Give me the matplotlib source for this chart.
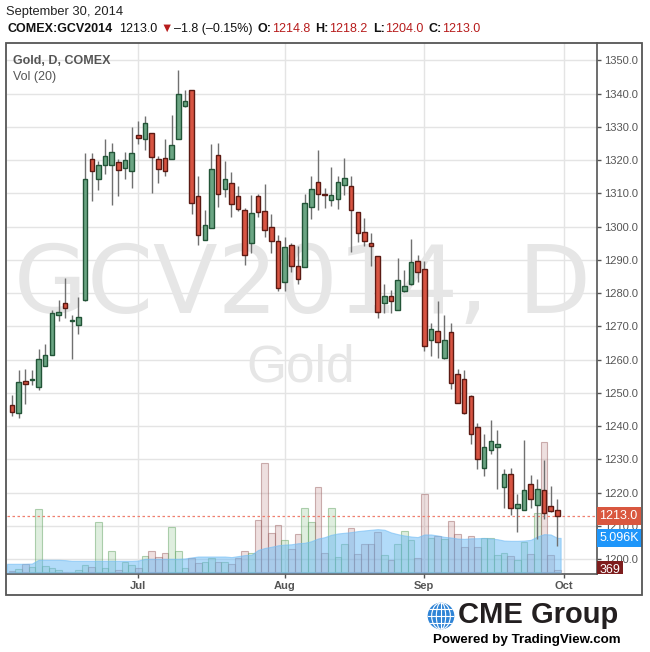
import numpy as np
import pandas as pd
import matplotlib
matplotlib.use('Agg')
import matplotlib.pyplot as plt
from matplotlib import transforms as mtrans
from matplotlib.patches import Rectangle, Circle, Ellipse

# ---------------- data ----------------
holidays = ['2014-07-04', '2014-09-01']
days = pd.bdate_range('2014-06-04', '2014-09-30')
days = days[~days.isin(pd.to_datetime(holidays))]
dates = [d.strftime('%Y-%m-%d') for d in days]

opens = [1246.2, 1243.8, 1253.5, 1253.8, 1251.6, 1258.0, 1261.3, 1273.3, 1277.0, 1271.7,
         1270.3, 1278.0, 1320.2, 1314.4, 1318.6, 1318.6, 1319.5, 1317.7, 1316.7, 1327.5,
         1326.4, 1328.0, 1320.4, 1320.7, 1320.4, 1326.4, 1336.3, 1341.0, 1309.2, 1295.9,
         1299.6, 1321.6, 1311.4, 1313.2, 1309.2, 1305.0, 1295.1, 1309.2, 1304.7, 1299.9,
         1295.7, 1283.3, 1294.5, 1288.2, 1287.9, 1305.9, 1313.5, 1309.8, 1308.0, 1308.3,
         1312.6, 1312.3, 1304.4, 1298.3, 1295.1, 1291.0, 1277.1, 1279.2, 1275.0, 1280.7,
         1282.8, 1289.7, 1287.3, 1265.9, 1268.6, 1260.5, 1268.3, 1255.7, 1254.2, 1249.0,
         1239.7, 1227.3, 1232.8, 1233.7, 1221.6, 1225.6, 1215.3, 1214.8, 1222.5, 1216.2,
         1220.7, 1215.9, 1214.8]
highs = [1249.3, 1256.9, 1257.2, 1256.9, 1263.2, 1264.7, 1275.0, 1278.0, 1284.5, 1273.5,
         1278.8, 1322.0, 1322.2, 1319.7, 1326.2, 1325.2, 1320.2, 1322.5, 1330.0, 1331.8,
         1333.1, 1328.0, 1321.2, 1326.2, 1333.5, 1347.0, 1341.0, 1341.0, 1315.2, 1305.0,
         1324.7, 1325.2, 1319.6, 1316.5, 1312.1, 1305.6, 1309.6, 1309.8, 1312.8, 1303.9,
         1297.5, 1296.9, 1295.1, 1294.2, 1309.8, 1315.3, 1322.9, 1311.7, 1318.0, 1315.3,
         1320.7, 1315.3, 1304.4, 1302.5, 1298.0, 1291.0, 1282.8, 1280.8, 1290.4, 1287.0,
         1296.2, 1291.3, 1289.7, 1271.0, 1277.7, 1273.5, 1271.0, 1257.2, 1256.9, 1249.3,
         1240.9, 1237.6, 1241.8, 1238.8, 1227.0, 1227.3, 1219.6, 1235.8, 1225.3, 1224.0,
         1229.8, 1222.0, 1218.2]
lows = [1243.0, 1242.5, 1246.5, 1252.4, 1250.9, 1258.0, 1261.3, 1271.5, 1272.5, 1260.1,
        1267.7, 1277.5, 1307.6, 1311.0, 1315.7, 1306.4, 1309.1, 1314.4, 1311.7, 1324.9,
        1323.0, 1310.2, 1313.2, 1315.2, 1320.4, 1326.4, 1336.0, 1303.8, 1294.4, 1295.9,
        1299.6, 1306.0, 1309.0, 1302.9, 1304.6, 1288.3, 1292.1, 1302.9, 1296.8, 1292.1,
        1280.5, 1280.5, 1286.2, 1282.7, 1287.9, 1302.3, 1304.9, 1305.6, 1306.1, 1305.3,
        1309.5, 1292.3, 1295.5, 1294.0, 1288.0, 1272.6, 1274.1, 1274.1, 1275.0, 1280.4,
        1282.5, 1283.4, 1262.5, 1261.1, 1260.5, 1260.2, 1251.2, 1246.9, 1243.6, 1234.6,
        1227.0, 1225.1, 1231.5, 1221.0, 1215.4, 1213.3, 1208.0, 1214.6, 1215.4, 1206.0,
        1212.0, 1214.0, 1204.0]
closes = [1244.1, 1253.2, 1252.6, 1254.0, 1260.1, 1261.3, 1274.0, 1274.3, 1275.5, 1271.9,
          1272.8, 1314.2, 1316.7, 1318.6, 1321.3, 1322.5, 1317.0, 1320.1, 1322.2, 1326.6,
          1331.0, 1320.9, 1317.4, 1316.8, 1324.6, 1339.8, 1337.9, 1307.1, 1297.6, 1300.5,
          1317.4, 1309.8, 1314.4, 1306.8, 1305.3, 1291.5, 1304.1, 1304.4, 1298.9, 1295.7,
          1281.5, 1293.8, 1288.2, 1284.3, 1307.1, 1311.4, 1309.8, 1309.5, 1309.5, 1313.5,
          1314.7, 1305.0, 1298.0, 1295.6, 1294.0, 1274.4, 1279.2, 1277.7, 1284.0, 1282.2,
          1289.4, 1286.4, 1264.1, 1269.2, 1265.3, 1265.9, 1253.0, 1246.9, 1243.9, 1237.6,
          1230.0, 1233.7, 1235.5, 1234.6, 1225.6, 1215.3, 1216.5, 1220.7, 1218.2, 1221.0,
          1213.8, 1214.5, 1213.0]
volumes = [220, 520, 1260, 810, 9350, 960, 670, 370, 120, 100,
           370, 1110, 810, 7470, 670, 3180, 370, 1550, 1110, 670,
           2440, 3180, 2290, 2860, 6730, 3140, 620, 2100, 1360, 1510,
           2100, 1510, 1510, 1210, 2100, 3140, 2840, 7730, 16160, 5800,
           6990, 4770, 3430, 5650, 9500, 7430, 12610, 2840, 9500, 2260,
           4140, 6510, 2660, 4140, 4140, 5920, 2520, 1780, 4140, 6070,
           4740, 2070, 11540, 5030, 5330, 4880, 7550, 5620, 3700, 5330,
           3700, 5030, 5030, 2540, 2810, 2460, 1820, 4440, 2710, 8730,
           19330, 2560, 369]
vol_ma = [1260, 1260, 1260, 1300, 1850, 1850, 1850, 1850, 1800, 1700,
          1700, 1700, 1700, 1700, 1700, 1700, 1700, 1700, 1700, 1750,
          2000, 2000, 2000, 2000, 2000, 2000, 2050, 2200, 2340, 2340,
          2340, 2340, 2340, 2250, 2400, 2550, 2600, 3300, 3600, 3780,
          4000, 4100, 4150, 4300, 4370, 4600, 5000, 5200, 5550, 5750,
          5850, 5950, 6100, 6200, 6300, 6390, 6300, 5900, 5650, 5450,
          5300, 5210, 5600, 5600, 5450, 5250, 5150, 5000, 4950, 5030,
          5050, 5080, 5000, 4900, 4700, 4660, 4660, 4700, 4800, 5300,
          5650, 5600, 5096]
price_ticks = list(range(1200, 1351, 10))
month_labels = ['Jul', 'Aug', 'Sep', 'Oct']
last_price = 1213.0
last_price_label = '1213.0'
vol_ma_label = '5.096K'
last_vol_label = '369'
title_date = 'September 30, 2014'
# (text, weight, colour, gap before in px)
header = [("COMEX:GCV2014", 'bold', '#111111', 0),
          ("1213.0", 'normal', '#111111', 6),
          ("\u25BC", 'normal', '#b71c1c', 3),
          ("\u20131.8 (\u20130.15%)", 'normal', '#111111', 2),
          ("O:", 'bold', '#111111', 5), ("1214.8", 'normal', '#b71c1c', 0.5),
          ("H:", 'bold', '#111111', 5), ("1218.2", 'normal', '#b71c1c', 0.5),
          ("L:", 'bold', '#111111', 5), ("1204.0", 'normal', '#b71c1c', 0.5),
          ("C:", 'bold', '#111111', 5), ("1213.0", 'normal', '#b71c1c', 0.5)]

# ---------------- layout helpers ----------------
plt.rcParams['font.family'] = ['Liberation Sans', 'DejaVu Sans']
W, H = 650, 652
fig = plt.figure(figsize=(W / 100, H / 100), dpi=100)
fig.patch.set_facecolor('white')
renderer = fig.canvas.get_renderer()


def fx(v):
    return v / W


def fy(v):
    return 1 - v / H


AX_L, AX_R, AX_T, AX_B = 7, 597, 43, 574
ax = fig.add_axes([fx(AX_L), fy(AX_B), (AX_R - AX_L) / W, (AX_B - AX_T) / H])
ax.set_facecolor('white')

x = np.arange(len(dates))
o = np.array(opens); c = np.array(closes)
up = c >= o

# volume scale (secondary scale via transforms)
VMIN, VMAX = -250, 78340
R = VMAX - VMIN
vol_y = mtrans.Affine2D().scale(1, 1 / R).translate(0, -VMIN / R) + ax.transAxes
vol_tf = mtrans.blended_transform_factory(ax.transData, vol_y)

# grid
ax.set_yticks(price_ticks)
month_pos = []
for m in [7, 8, 9]:
    month_pos.append(next(i for i, d in enumerate(days) if d.month == m))
month_pos.append(len(dates))
ax.set_xticks(month_pos)
ax.set_xticklabels(month_labels, fontweight='bold')
ax.set_yticklabels([f'{p:.1f}' for p in price_ticks])
ax.grid(True, color='#e4e4e4', lw=1)
ax.set_axisbelow(True)

# watermark
ax.text(0.5, (AX_B - 313) / (AX_B - AX_T), 'GCV2014, D', transform=ax.transAxes,
        ha='center', va='baseline', fontsize=68, family='DejaVu Sans',
        color='#e6e6e6', zorder=1)
ax.text(0.498, (AX_B - 382) / (AX_B - AX_T), 'Gold', transform=ax.transAxes,
        ha='center', va='baseline', fontsize=37, family='Liberation Sans',
        color='#e6e6e6', zorder=1)

# volume bars
vface = [(0.50, 0.75, 0.50, 0.25) if u else (0.74, 0.50, 0.50, 0.25) for u in up]
vedge = [(0.40, 0.65, 0.40, 0.50) if u else (0.62, 0.40, 0.40, 0.50) for u in up]
ax.bar(x, volumes, width=1.0, bottom=0, color=vface, edgecolor=vedge,
       linewidth=0.8, transform=vol_tf, zorder=2)

# volume MA area (drawn over the bars, semi-transparent)
xm = np.concatenate([[-0.75], x, [x[-1] + 0.5]])
mm = np.concatenate([[vol_ma[0]], vol_ma, [vol_ma[-1]]])
ax.fill_between(xm, 0, mm, transform=vol_tf, facecolor=(0.40, 0.72, 0.96, 0.5),
                edgecolor=(0.45, 0.74, 0.96, 0.6), lw=0.8, zorder=3)

# last price dotted line
ax.axhline(last_price, color='#ef7f6e', lw=0.9, ls=(0, (2, 2)), zorder=4)

# candles
ax.vlines(x, lows, highs, colors='#707070', lw=1, zorder=5)
bface = ['#6ba583' if u else '#d75442' for u in up]
bedge = ['#225437' if u else '#5b1a13' for u in up]
ax.bar(x, c - o, bottom=o, width=0.68, color=bface, edgecolor=bedge,
       linewidth=1, zorder=6)

ax.set_xlim(-0.75, 87.97)
ax.set_ylim(1195.5, 1355.2)

# axes styling
for s in ['left', 'top']:
    ax.spines[s].set_visible(False)
for s in ['right', 'bottom']:
    ax.spines[s].set_color('#555555')
    ax.spines[s].set_linewidth(1.2)
ax.yaxis.tick_right()
ax.tick_params(axis='y', direction='out', length=3, width=1, colors='#555555',
               labelsize=8, pad=2)
ax.tick_params(axis='x', direction='out', length=3, width=1, colors='#555555',
               labelsize=8, pad=2)

# right-side value boxes
lab_tf = mtrans.blended_transform_factory(ax.transAxes, ax.transData)
ax.text(1.0 + 2.5 / 590, last_price, last_price_label, transform=lab_tf, ha='left',
        va='center', color='white', fontsize=9,
        bbox=dict(boxstyle='square,pad=0.22', fc='#d9573f', ec='none'),
        clip_on=False, zorder=10)
vlab_tf = mtrans.blended_transform_factory(ax.transAxes, vol_y)
ax.text(1.0 + 2.5 / 590, vol_ma[-1], vol_ma_label, transform=vlab_tf, ha='left',
        va='center', color='white', fontsize=9,
        bbox=dict(boxstyle='square,pad=0.22', fc='#1e96fa', ec='none'),
        clip_on=False, zorder=10)
t369 = ax.text(1.0 + 2.5 / 590, volumes[-1], last_vol_label, transform=vlab_tf,
               ha='left', va='center', color='white', fontsize=9,
               bbox=dict(boxstyle='square,pad=0.22', fc='#7d1d1d', ec='none'),
               zorder=10)
clip = mtrans.TransformedBbox(mtrans.Bbox.from_extents(fx(560), fy(AX_B), 1, 1),
                              fig.transFigure)
t369.set_clip_on(True)
t369.set_clip_box(clip)

# outer frame
fig.add_artist(Rectangle((fx(6), fy(595)), (642 - 6) / W, (595 - 43) / H,
                         transform=fig.transFigure, fill=False, ec='#555555',
                         lw=1.3, zorder=20))

# header
fig.text(fx(6), fy(12), title_date, ha='left', va='center', fontsize=9.3,
         color='#222222')
cur = 7.5
for txt, wt, col, gap in header:
    cur += gap
    t = fig.text(fx(cur), fy(29), txt, ha='left', va='center', fontsize=9,
                 fontweight=wt, color=col)
    bb = t.get_window_extent(renderer)
    cur = bb.x1

fig.text(fx(13), fy(61), 'Gold, D, COMEX', ha='left', va='center', fontsize=9,
         fontweight='bold', color='#555555')
fig.text(fx(13), fy(77), 'Vol (20)', ha='left', va='center', fontsize=9,
         color='#555555')

# logo
gax = fig.add_axes([fx(427), fy(630), 28 / W, 28 / H])
gax.set_xlim(-1.05, 1.05); gax.set_ylim(-1.05, 1.05)
gax.set_aspect('equal'); gax.axis('off')
globe = Circle((0, 0), 1, fc='#2f84d6', ec='none')
gax.add_patch(globe)
for wdt in [0.7, 1.4]:
    e = Ellipse((0, 0), wdt, 2, fill=False, ec='white', lw=0.8)
    gax.add_patch(e); e.set_clip_path(globe)
for yy in [-0.5, 0, 0.5]:
    ln, = gax.plot([-1, 1], [yy, yy], color='white', lw=0.8)
    ln.set_clip_path(globe)
ln, = gax.plot([0, 0], [-1, 1], color='white', lw=0.8)
ln.set_clip_path(globe)
fig.text(fx(458), fy(615), 'CME Group', ha='left', va='center', fontsize=21,
         fontweight='bold', color='#231f20')
fig.text(fx(433), fy(640), 'Powered by TradingView.com', ha='left', va='center',
         fontsize=9.6, fontweight='bold', color='#000000')

fig.savefig('out.png', dpi=100, facecolor='white')
